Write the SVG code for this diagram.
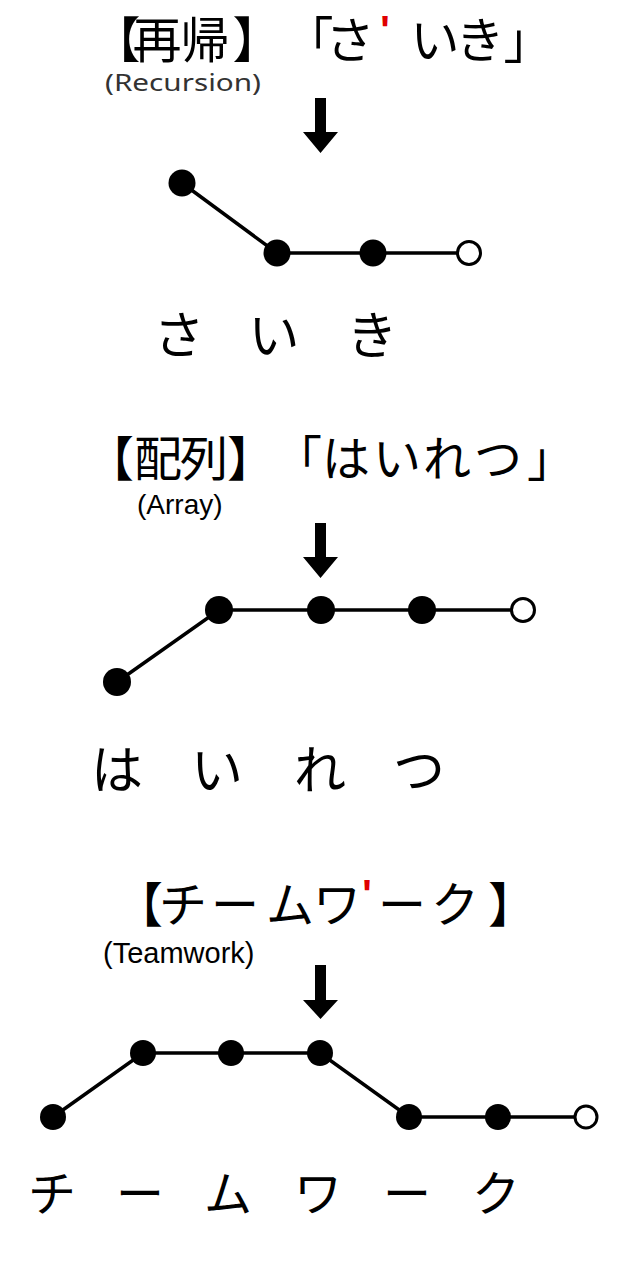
<svg xmlns="http://www.w3.org/2000/svg" width="640" height="1262" viewBox="0 0 640 1262">
<style>
.jp{font-family:"Noto Sans CJK JP","Noto Sans",sans-serif;fill:#000;text-anchor:middle}
.en{font-family:"Liberation Sans",Arial,sans-serif;fill:#000}
.red{font-family:"Liberation Sans",Arial,sans-serif;fill:#e00000;font-weight:bold;text-anchor:middle}
.edge{stroke:#000;stroke-width:3.5;fill:none}
.dot{fill:#000}
.open{fill:#fff;stroke:#000;stroke-width:3}
.arrow{fill:#000}
</style>
<rect width="640" height="1262" fill="#fff"/>

<!-- Section 1 -->
<g id="title-recursion">
<text class="jp" font-size="49" x="116 157 205 257 309 350" y="58">【再帰】「さ</text>
<text class="red" font-size="40" x="385" y="44">'</text>
<text class="jp" font-size="49" x="435 480 528" y="58">いき」</text>
<text font-family="'Noto Sans','Open Sans',sans-serif" font-size="24" fill="#333" x="105" y="91" textLength="156" lengthAdjust="spacingAndGlyphs">(Recursion)</text>
</g>
<g id="arrow-1"><path class="arrow" d="M315,98 H326 V132 H338 L320.5,153 L303,132 H315 Z"/></g>
<g id="connectors-1">
<path class="edge" d="M182,183 L277,253 L373,253 L469,253"/>
</g>
<g id="n1-sa"><circle class="dot" cx="182" cy="183" r="13.5"/></g>
<g id="n1-i"><circle class="dot" cx="277" cy="253" r="13.5"/></g>
<g id="n1-ki"><circle class="dot" cx="373" cy="253" r="13.5"/></g>
<g id="n1-end"><circle class="open" cx="469" cy="253" r="11.5"/></g>
<g id="labels-1">
<text class="jp" font-size="51" x="179 274 372" y="354">さいき</text>
</g>

<!-- Section 2 -->
<g id="title-array">
<text class="jp" font-size="48" x="110 158 204 251 298 346 397 447 498 551" y="476">【配列】「はいれつ」</text>
<text class="en" font-size="28" x="137" y="514">(Array)</text>
</g>
<g id="arrow-2"><path class="arrow" d="M315,523 H326 V557 H338 L320.5,578 L303,557 H315 Z"/></g>
<g id="connectors-2">
<path class="edge" d="M117,682 L219,610 L321,610 L422,610 L523,610"/>
</g>
<g id="n2-ha"><circle class="dot" cx="117" cy="682" r="14"/></g>
<g id="n2-i"><circle class="dot" cx="219" cy="610" r="14"/></g>
<g id="n2-re"><circle class="dot" cx="321" cy="610" r="14"/></g>
<g id="n2-tsu"><circle class="dot" cx="422" cy="610" r="14"/></g>
<g id="n2-end"><circle class="open" cx="523" cy="610" r="11.5"/></g>
<g id="labels-2">
<text class="jp" font-size="52" x="117 217 320 419" y="789">はいれつ</text>
</g>

<!-- Section 3 -->
<g id="title-teamwork">
<text class="jp" font-size="48" x="139 183 235 290 337" y="922">【チームワ</text>
<text class="red" font-size="40" x="367" y="908">'</text>
<text class="jp" font-size="48" x="402 455 512" y="922">ーク】</text>
<text class="en" font-size="29" x="103" y="963">(Teamwork)</text>
</g>
<g id="arrow-3"><path class="arrow" d="M315,965 H326 V1000 H338 L320.5,1019 L303,1000 H315 Z"/></g>
<g id="connectors-3">
<path class="edge" d="M53,1117 L143,1053 L231,1053 L320,1053 L409,1117 L498,1117 L586,1117"/>
</g>
<g id="n3-chi"><circle class="dot" cx="53" cy="1117" r="13"/></g>
<g id="n3-bar1"><circle class="dot" cx="143" cy="1053" r="13"/></g>
<g id="n3-mu"><circle class="dot" cx="231" cy="1053" r="13"/></g>
<g id="n3-wa"><circle class="dot" cx="320" cy="1053" r="13"/></g>
<g id="n3-bar2"><circle class="dot" cx="409" cy="1117" r="13"/></g>
<g id="n3-ku"><circle class="dot" cx="498" cy="1117" r="13"/></g>
<g id="n3-end"><circle class="open" cx="586" cy="1117" r="11"/></g>
<g id="labels-3">
<text class="jp" font-size="48" x="52 140 228 318 407 496" y="1211">チームワーク</text>
</g>
</svg>
